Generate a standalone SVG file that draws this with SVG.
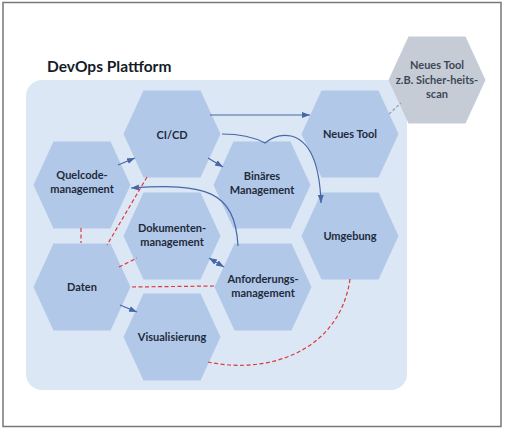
<svg xmlns="http://www.w3.org/2000/svg" xmlns:xlink="http://www.w3.org/1999/xlink" width="505" height="429" viewBox="0 0 505 429">
<defs>
<polygon id="hex" points="-48.5,0 -28.5,-43.5 28.5,-43.5 48.5,0 28.5,43.5 -28.5,43.5"/>
<marker id="ah" markerUnits="userSpaceOnUse" markerWidth="9" markerHeight="7" refX="8" refY="3" orient="auto-start-reverse">
<path d="M0,0 L8,3 L0,6 z" fill="#4668a8"/>
</marker>
</defs>
<style>
.hx{fill:#b1c8e8}
.hg{fill:#c5ccd6}
.lb{font-family:Lato,"Liberation Sans",sans-serif;font-weight:700;font-size:11px;fill:#1f2b3c;text-anchor:middle}
.lg{font-family:Lato,"Liberation Sans",sans-serif;font-weight:700;font-size:11px;fill:#3f4756;text-anchor:middle}
.ar{fill:none;stroke:#4668a8;stroke-width:1.2;marker-end:url(#ah)}
.rd{fill:none;stroke:#dd3a3a;stroke-width:1.2;stroke-dasharray:4 2.5}
.gd{fill:none;stroke:#98a4b6;stroke-width:1.4;stroke-dasharray:3 2}
</style>
<rect x="0" y="0" width="505" height="429" fill="#ffffff"/>
<rect x="3" y="2.5" width="498" height="424" fill="none" stroke="#777" stroke-width="1.5"/>
<rect x="26" y="80" width="381" height="310" rx="16" fill="#dce7f5"/>
<text x="47" y="72" font-family="Lato,'Liberation Sans',sans-serif" font-weight="700" font-size="15.5" fill="#151c28">DevOps Plattform</text>
<g id="n-cicd"><use xlink:href="#hex" class="hx" x="172" y="134"/><text class="lb" x="172" y="139">CI/CD</text></g>
<g id="n-neuestool"><use xlink:href="#hex" class="hx" x="350" y="134"/><text class="lb" x="350" y="138">Neues Tool</text></g>
<g id="n-quelcode"><use xlink:href="#hex" class="hx" x="82" y="185"/><text class="lb" x="82" y="179">Quelcode-</text><text class="lb" x="82" y="193">management</text></g>
<g id="n-binaeres"><use xlink:href="#hex" class="hx" x="262" y="185"/><text class="lb" x="262" y="180">Binäres</text><text class="lb" x="262" y="194">Management</text></g>
<g id="n-dokumenten"><use xlink:href="#hex" class="hx" x="172" y="236"/><text class="lb" x="172" y="232">Dokumenten-</text><text class="lb" x="172" y="246">management</text></g>
<g id="n-umgebung"><use xlink:href="#hex" class="hx" x="350" y="236"/><text class="lb" x="350" y="240">Umgebung</text></g>
<g id="n-daten"><use xlink:href="#hex" class="hx" x="82" y="287"/><text class="lb" x="82" y="291">Daten</text></g>
<g id="n-anforderungs"><use xlink:href="#hex" class="hx" x="263" y="287"/><text class="lb" x="263" y="283">Anforderungs-</text><text class="lb" x="263" y="297">management</text></g>
<g id="n-visualisierung"><use xlink:href="#hex" class="hx" x="172" y="337"/><text class="lb" x="172" y="341">Visualisierung</text></g>
<g id="n-extern"><use xlink:href="#hex" class="hg" x="437" y="80"/><text class="lg" x="437" y="69">Neues Tool</text><text class="lg" x="437" y="84">z.B. Sicher-heits-</text><text class="lg" x="437" y="98">scan</text></g>
<g id="connectors">
<path class="ar" d="M210,115 L310,115"/>
<path class="ar" d="M222,134 Q248,134 265,143 Q277,133 291,136 Q319,143 321,203"/>
<path class="ar" d="M208,158 L223,167"/>
<path class="ar" d="M118,165 L135,158"/>
<path class="ar" d="M238,246 C235,190 205,183 131,188"/>
<path class="ar" d="M209,258 L224,267" marker-start="url(#ah)"/>
<path class="ar" d="M120,305 L137,312"/>
<path class="rd" d="M81,228 L81,243"/>
<path class="rd" d="M147,177 L107,245"/>
<path class="rd" d="M119,267 L137,258"/>
<path class="rd" d="M132,287 L214,286"/>
<path class="rd" d="M350,279 C340,350 270,375 208,362"/>
<path class="gd" d="M389,114 L401,103"/>
</g>
</svg>
